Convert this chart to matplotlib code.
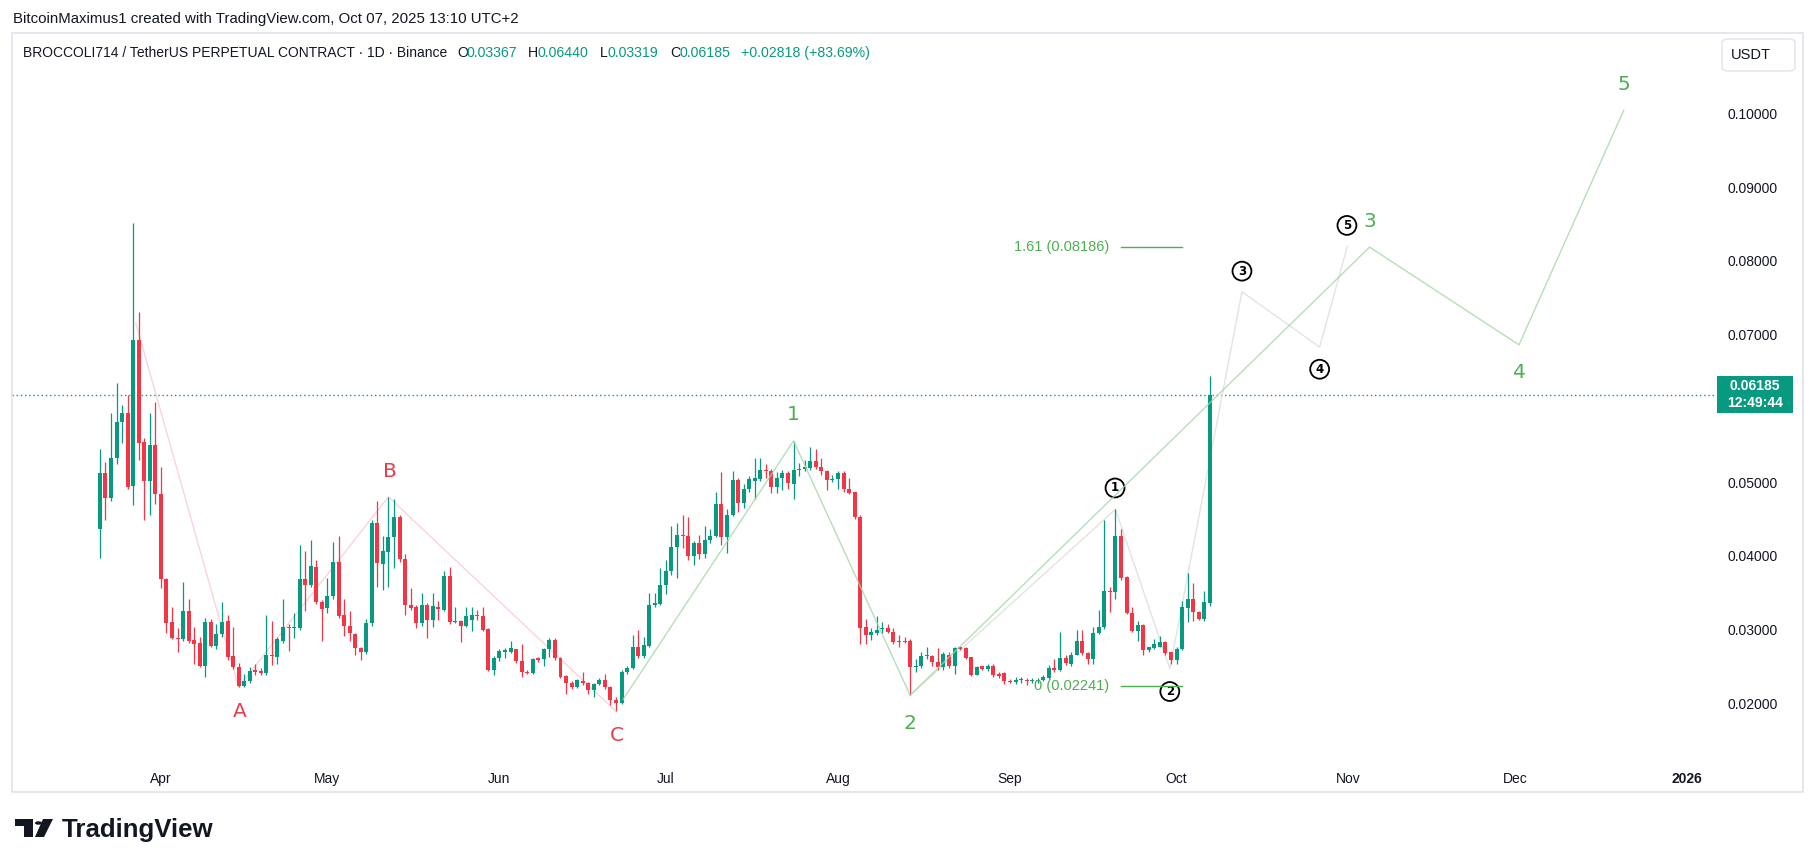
import matplotlib
matplotlib.use("Agg")
import matplotlib.pyplot as plt
import matplotlib.dates as mdates
import matplotlib.transforms as mtransforms
from matplotlib.patches import Rectangle, FancyBboxPatch, Polygon, Circle
import numpy as np
import pandas as pd

plt.rcParams['font.family'] = ['Liberation Sans', 'DejaVu Sans']

# daily candles, BROCCOLI714/USDT, from 2025-03-21
start_day = '2025-03-21'
opens = [.0437, .0512, .0478, .0532, .0581, .0593, .0495, .0692, .0555, .0502,
         .0550, .0484, .0368, .0310, .0289, .0287, .0325, .0286, .0282, .0251,
         .0310, .0278, .0294, .0311, .0264, .0249, .0223, .0230, .0245, .0244,
         .0241, .0266, .0263, .0284, .0304, .0302, .0302, .0368, .0360, .0385,
         .0338, .0329, .0345, .0392, .0320, .0305, .0294, .0275, .0269, .0309,
         .0444, .0389, .0405, .0425, .0452, .0396, .0334, .0330, .0309, .0334,
         .0313, .0331, .0327, .0373, .0310, .0312, .0305, .0313, .0320, .0318,
         .0301, .0245, .0261, .0270, .0270, .0273, .0258, .0243, .0241, .0261,
         .0260, .0273, .0286, .0262, .0237, .0228, .0222, .0230, .0228, .0218,
         .0226, .0231, .0222, .0205, .0200, .0242, .0248, .0276, .0264, .0278,
         .0333, .0335, .0360, .0380, .0412, .0428, .0427, .0400, .0418, .0403,
         .0421, .0427, .0470, .0425, .0456, .0503, .0472, .0490, .0502, .0504,
         .0516, .0515, .0493, .0506, .0512, .0498, .0516, .0518, .0519, .0528,
         .0521, .0515, .0503, .0504, .0512, .0491, .0486, .0453, .0303, .0293,
         .0296, .0301, .0302, .0297, .0284, .0284, .0284, .0249, .0250, .0264,
         .0264, .0256, .0249, .0266, .0251, .0275, .0275, .0263, .0239, .0250,
         .0246, .0251, .0240, .0241, .0230, .0229, .0231, .0232, .0230, .0230,
         .0232, .0234, .0248, .0245, .0262, .0254, .0266, .0285, .0268, .0260,
         .0295, .0303, .0352, .0351, .0427, .0371, .0322, .0298, .0306, .0272,
         .0275, .0277, .0283, .0269, .0259, .0273, .0329, .0341, .0324, .0315,
         .03367]
highs = [.0545, .0527, .0593, .0635, .0605, .0618, .0851, .0731, .0560, .0594,
         .0608, .0520, .0370, .0330, .0302, .0365, .0342, .0303, .0290, .0316,
         .0315, .0308, .0338, .0320, .0304, .0255, .0240, .0249, .0253, .0248,
         .0320, .0311, .0290, .0342, .0308, .0322, .0415, .0407, .0422, .0394,
         .0340, .0370, .0419, .0427, .0341, .0325, .0296, .0277, .0315, .0449,
         .0474, .0427, .0480, .0477, .0455, .0402, .0356, .0333, .0349, .0336,
         .0349, .0339, .0379, .0385, .0330, .0313, .0331, .0331, .0327, .0331,
         .0302, .0264, .0273, .0275, .0285, .0274, .0281, .0245, .0262, .0263,
         .0275, .0289, .0288, .0263, .0238, .0230, .0233, .0243, .0229, .0228,
         .0234, .0240, .0223, .0208, .0245, .0251, .0293, .0299, .0290, .0349,
         .0349, .0383, .0394, .0441, .0444, .0455, .0453, .0420, .0428, .0440,
         .0437, .0487, .0513, .0463, .0515, .0505, .0497, .0508, .0532, .0532,
         .0524, .0518, .0513, .0516, .0515, .0556, .0526, .0530, .0547, .0545,
         .0532, .0516, .0510, .0515, .0515, .0506, .0487, .0455, .0314, .0302,
         .0318, .0310, .0308, .0302, .0292, .0290, .0287, .0260, .0269, .0276,
         .0266, .0275, .0270, .0270, .0276, .0277, .0276, .0263, .0250, .0251,
         .0254, .0253, .0242, .0243, .0233, .0236, .0236, .0234, .0234, .0234,
         .0238, .0252, .0260, .0297, .0265, .0270, .0300, .0300, .0270, .0303,
         .0327, .0448, .0358, .0463, .0437, .0372, .0330, .0311, .0307, .0277,
         .0287, .0291, .0285, .0270, .0276, .0339, .0377, .0363, .0325, .0352,
         .06440]
lows = [.0397, .0449, .0475, .0524, .0553, .0490, .0469, .0530, .0449, .0455,
        .0470, .0357, .0296, .0287, .0269, .0285, .0282, .0254, .0249, .0236,
        .0277, .0274, .0290, .0259, .0247, .0222, .0222, .0228, .0239, .0239,
        .0239, .0252, .0254, .0282, .0271, .0289, .0300, .0325, .0358, .0335,
        .0284, .0322, .0342, .0316, .0291, .0284, .0265, .0259, .0267, .0305,
        .0358, .0354, .0358, .0383, .0392, .0320, .0327, .0302, .0305, .0289,
        .0304, .0313, .0325, .0308, .0309, .0283, .0303, .0298, .0313, .0298,
        .0244, .0239, .0258, .0262, .0268, .0255, .0236, .0240, .0240, .0256,
        .0250, .0263, .0259, .0235, .0212, .0220, .0221, .0225, .0213, .0208,
        .0225, .0220, .0198, .0189, .0199, .0240, .0246, .0262, .0262, .0276,
        .0330, .0333, .0348, .0374, .0370, .0410, .0395, .0387, .0396, .0397,
        .0417, .0425, .0415, .0404, .0454, .0460, .0465, .0486, .0477, .0502,
        .0506, .0485, .0485, .0489, .0490, .0477, .0508, .0515, .0517, .0518,
        .0510, .0489, .0500, .0491, .0487, .0484, .0450, .0280, .0281, .0286,
        .0292, .0295, .0296, .0281, .0276, .0282, .0211, .0243, .0248, .0260,
        .0250, .0245, .0245, .0248, .0240, .0272, .0260, .0237, .0238, .0245,
        .0244, .0236, .0235, .0226, .0228, .0226, .0227, .0225, .0228, .0228,
        .0230, .0233, .0242, .0244, .0252, .0251, .0265, .0266, .0253, .0253,
        .0294, .0301, .0324, .0342, .0367, .0321, .0297, .0284, .0266, .0270,
        .0273, .0277, .0266, .0254, .0254, .0272, .0310, .0311, .0313, .0312,
        .03319]
closes = [.0512, .0478, .0533, .0581, .0593, .0493, .0692, .0553, .0502, .0550,
          .0484, .0368, .0309, .0288, .0287, .0325, .0284, .0281, .0250, .0310,
          .0278, .0294, .0310, .0263, .0249, .0223, .0230, .0244, .0243, .0241,
          .0265, .0264, .0287, .0304, .0302, .0303, .0369, .0360, .0386, .0338,
          .0328, .0345, .0392, .0319, .0305, .0295, .0275, .0269, .0309, .0445,
          .0390, .0406, .0425, .0452, .0396, .0334, .0329, .0309, .0334, .0313,
          .0332, .0328, .0373, .0310, .0311, .0305, .0319, .0320, .0318, .0300,
          .0245, .0261, .0271, .0272, .0275, .0257, .0242, .0241, .0260, .0259,
          .0273, .0286, .0261, .0236, .0228, .0222, .0231, .0227, .0218, .0226,
          .0231, .0222, .0204, .0200, .0242, .0248, .0277, .0264, .0279, .0333,
          .0336, .0361, .0380, .0412, .0428, .0427, .0400, .0418, .0403, .0421,
          .0427, .0470, .0425, .0456, .0503, .0472, .0491, .0504, .0505, .0516,
          .0515, .0493, .0506, .0512, .0499, .0516, .0518, .0521, .0528, .0521,
          .0515, .0503, .0504, .0512, .0491, .0485, .0452, .0302, .0293, .0297,
          .0300, .0302, .0297, .0283, .0283, .0283, .0249, .0251, .0264, .0265,
          .0256, .0249, .0267, .0251, .0275, .0274, .0262, .0239, .0249, .0246,
          .0251, .0239, .0237, .0230, .0229, .0231, .0232, .0230, .0232, .0232,
          .0236, .0248, .0245, .0262, .0255, .0266, .0285, .0268, .0260, .0295,
          .0304, .0352, .0351, .0427, .0370, .0322, .0298, .0306, .0272, .0276,
          .0280, .0283, .0268, .0259, .0274, .0330, .0341, .0324, .0315, .0337,
          .06185]

last_price = 0.06185
y_ticks = [0.02, 0.03, 0.04, 0.05, 0.07, 0.08, 0.09, 0.10]
month_ticks = ['2025-04-01', '2025-05-01', '2025-06-01', '2025-07-01', '2025-08-01',
               '2025-09-01', '2025-10-01', '2025-11-01', '2025-12-01', '2026-01-01']
month_labels = ['Apr', 'May', 'Jun', 'Jul', 'Aug', 'Sep', 'Oct', 'Nov', 'Dec', '2026']

# elliott wave drawings
abc_dates = ['2025-03-27 12:00', '2025-04-15 00:00', '2025-05-12 00:00', '2025-06-22 00:00']
abc_prices = [0.0715, 0.0222, 0.0480, 0.0189]
impulse_dates = ['2025-06-23 06:00', '2025-07-24 00:00', '2025-08-14 00:00', '2025-11-04 19:00',
                 '2025-12-01 17:00', '2025-12-20 14:00']
impulse_prices = [0.0205, 0.0556, 0.0211, 0.08186, 0.0686, 0.1004]
sub_dates = ['2025-08-14 00:00', '2025-09-20 00:00', '2025-09-29 19:00', '2025-10-12 19:00',
             '2025-10-26 19:00', '2025-10-31 19:00']
sub_prices = [0.0211, 0.0463, 0.0247, 0.0758, 0.0683, 0.0820]

abc_labels = ['A', 'B', 'C']
abc_label_dates = ['2025-04-15 05:00', '2025-05-12 07:00', '2025-06-22 05:00']
abc_label_prices = [0.0189, 0.0515, 0.0157]
wave_labels = ['1', '2', '3', '4', '5']
wave_label_dates = ['2025-07-23 22:00', '2025-08-14 00:00', '2025-11-04 22:00',
                    '2025-12-01 17:00', '2025-12-20 14:00']
wave_label_prices = [0.0592, 0.0173, 0.0853, 0.0648, 0.1039]
sub_labels = ['1', '2', '3', '4', '5']
sub_label_dates = ['2025-09-19 22:00', '2025-09-29 19:00', '2025-10-12 19:00',
                   '2025-10-26 19:00', '2025-10-31 17:00']
sub_label_prices = [0.0492, 0.0216, 0.0786, 0.0653, 0.0848]

fib_levels = [0.08186, 0.02241]
fib_texts = ['1.61 (0.08186)', '0 (0.02241)']
fib_start, fib_end, fib_text_at = '2025-09-20 22:00', '2025-10-01 22:00', '2025-09-18 19:00'

UP, DOWN = '#089981', '#f23645'
INK = '#131722'
W, H = 1815, 867


def when(lst):
    return pd.to_datetime(lst, format='mixed')


fig = plt.figure(figsize=(W / 100, H / 100), dpi=100)
fig.patch.set_facecolor('white')


def rect(x0, y0, x1, y1):
    return [x0 / W, 1 - y1 / H, (x1 - x0) / W, (y1 - y0) / H]


def fy(y):
    return 1 - y / H


# pane frame
fig.add_artist(Rectangle((12 / W, fy(792)), (1803 - 12) / W, (792 - 33) / H,
                         transform=fig.transFigure, fill=False, ec='#e0e3eb', lw=1.2))

ax = fig.add_axes(rect(12, 33, 1716, 765))
ax.set_facecolor('none')

dates = pd.date_range(start_day, periods=len(opens), freq='D')
x = mdates.date2num(dates)
o = np.array(opens); h = np.array(highs); l = np.array(lows); c = np.array(closes)
cols = np.where(c >= o, UP, DOWN)
ax.vlines(x, l, h, colors=cols, lw=0.9, zorder=3)
body = np.maximum(np.abs(c - o), 0.00018)
ax.bar(x, body, bottom=np.minimum(o, c), width=0.72, color=cols, lw=0, zorder=4)

ax.axhline(last_price, color=UP, ls=(0, (1, 2)), lw=1, zorder=2)

ax.plot(when(abc_dates), abc_prices, color='#f7b8bd', lw=1, alpha=0.6, zorder=2)
ax.plot(when(impulse_dates), impulse_prices, color='#a5d6a7', lw=1, alpha=0.8, zorder=5)
ax.plot(when(sub_dates), sub_prices, color='#e3e3e3', lw=1, zorder=2)

for t, d, p in zip(abc_labels, when(abc_label_dates), abc_label_prices):
    ax.text(d, p, t, color='#e5404f', fontsize=14.5, ha='center', va='center',
            family=['DejaVu Sans'])
for t, d, p in zip(wave_labels, when(wave_label_dates), wave_label_prices):
    ax.text(d, p, t, color='#4caf50', fontsize=14.5, ha='center', va='center',
            family=['DejaVu Sans'])
for t, d, p in zip(sub_labels, when(sub_label_dates), sub_label_prices):
    ax.text(d, p, t, color='black', fontsize=8.5, fontweight='bold',
            ha='center', va='center', family=['DejaVu Sans'],
            bbox=dict(boxstyle='circle,pad=0.25', fc='white', ec='black', lw=1.3))

for lev, txt in zip(fib_levels, fib_texts):
    ax.plot(when([fib_start, fib_end]), [lev, lev], color='#4caf50', lw=1, zorder=5)
    ax.text(pd.Timestamp(fib_text_at), lev, txt, color='#4caf50', fontsize=10.5,
            ha='right', va='center', zorder=6)

ax.set_xlim(pd.Timestamp('2025-03-05 04:00'), pd.Timestamp('2026-01-06 05:00'))
ax.set_ylim(0.011638, 0.11089)

for s in ax.spines.values():
    s.set_visible(False)
ax.yaxis.tick_right()
ax.set_yticks(y_ticks)
ax.set_yticklabels(['%.5f' % v for v in y_ticks])
ax.tick_params(axis='y', length=0, pad=8.6, labelsize=10, labelcolor=INK)
ax.set_xticks(when(month_ticks))
ax.set_xticklabels(month_labels)
ax.tick_params(axis='x', length=0, pad=5, labelsize=10, labelcolor=INK)
ax.get_xticklabels()[-1].set_fontweight('bold')

# last price tag
tr = mtransforms.blended_transform_factory(fig.transFigure, ax.transData)
tag_h = 37 / 7450
fig.add_artist(Rectangle((1717 / W, last_price - tag_h / 2), 76 / W, tag_h, transform=tr,
                         fc=UP, ec='none', clip_on=False))
fig.text(1755 / W, last_price, '0.06185\n12:49:44', transform=tr, color='white',
         fontsize=10, ha='center', va='center', linespacing=1.25, fontweight='bold')

# currency box
fig.add_artist(FancyBboxPatch((1722 / W, fy(71)), 73 / W, 32 / H,
                              boxstyle='round,pad=0,rounding_size=0.004',
                              transform=fig.transFigure, fc='white', ec='#e0e3eb', lw=1))
fig.text(1751 / W, fy(55), 'USDT', fontsize=10.5, ha='center', va='center', color=INK)

# header texts
fig.text(13 / W, fy(19), 'BitcoinMaximus1 created with TradingView.com, Oct 07, 2025 13:10 UTC+2',
         fontsize=10.8, va='center', color=INK)
row_y = fy(53)
fig.text(23 / W, row_y, 'BROCCOLI714 / TetherUS PERPETUAL CONTRACT · 1D · Binance',
         fontsize=10.0, va='center', color=INK)
ohlc_parts = [(457, 'O', INK), (467, '0.03367', UP), (528, 'H', INK),
              (538, '0.06440', UP), (600, 'L', INK), (608, '0.03319', UP),
              (670, 'C', INK), (679, '0.06185', UP), (741, '+0.02818 (+83.69%)', UP)]
for px, t, col in ohlc_parts:
    fig.text(px / W, row_y, t, fontsize=10.2, va='center', color=col)

# TradingView logo
fig.add_artist(Polygon([(15 / W, fy(819)), (33 / W, fy(819)), (33 / W, fy(837)),
                        (24 / W, fy(837)), (24 / W, fy(826)), (15 / W, fy(826))],
                       closed=True, transform=fig.transFigure, fc=INK, ec='none'))
fig.add_artist(Circle((38.5 / W, fy(823)), 3.6 / W, transform=fig.transFigure, fc=INK, ec='none'))
fig.add_artist(Polygon([(43 / W, fy(819)), (53 / W, fy(819)), (44 / W, fy(837)),
                        (35 / W, fy(837))],
                       closed=True, transform=fig.transFigure, fc=INK, ec='none'))
fig.text(62 / W, fy(837), 'TradingView', fontsize=18.6, fontweight='bold', va='baseline',
         color=INK)

fig.savefig('out.png', dpi=100, facecolor='white')
